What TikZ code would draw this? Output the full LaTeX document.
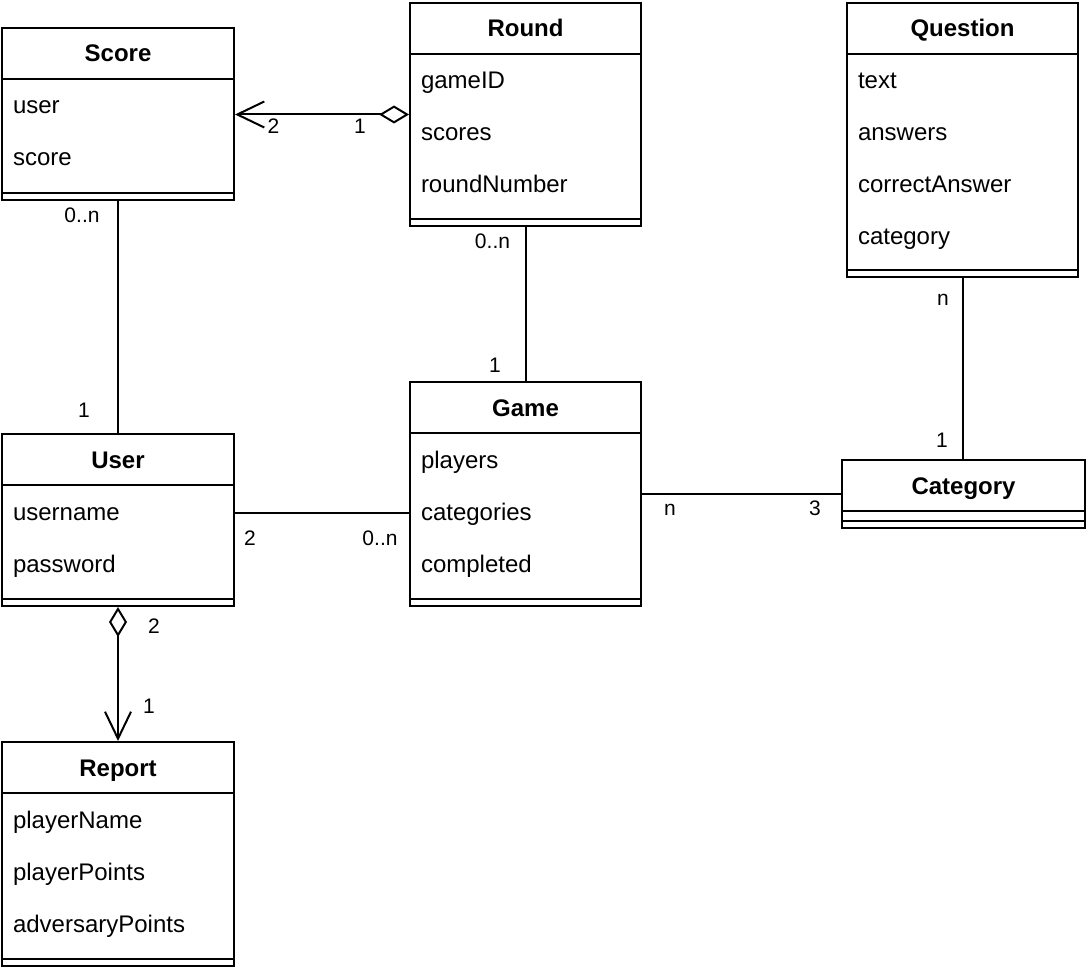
\documentclass[tikz,border=0pt]{standalone}
\usepackage{fontspec}
\setmainfont{Liberation Sans}
\usetikzlibrary{arrows.meta}
\tikzset{
  cls/.style={draw, rectangle, anchor=north west, inner sep=0pt, fill=white},
  ttl/.style={anchor=base, inner sep=0pt, font=\bfseries\fontsize{24}{28}\selectfont},
  attr/.style={anchor=base west, inner sep=0pt, font=\fontsize{24}{28}\selectfont},
  lbl/.style={anchor=base, inner sep=0pt, font=\fontsize{21}{24}\selectfont},
  aggrarrow/.style={{Diamond[open,length=30pt,width=18pt,line width=2pt]}-{Straight Barb[length=27pt,width=26pt,line width=2pt]}}
}
\newcommand{\umlclass}[6]{%
  \node[cls, minimum width=#4pt, minimum height=#5pt] (#1) at (#2,#3) {};
  \draw ([yshift=-52pt]#1.north west) -- ([yshift=-52pt]#1.north east);
  \draw ([yshift=8pt]#1.south west) -- ([yshift=8pt]#1.south east);
  \node[ttl] (#1-title) at ([yshift=-35pt]#1.north) {#6};
}
\newcommand{\umlattr}[4]{%
  \node[attr] (#1) at ([xshift=11pt,yshift=-#3pt]#2.north west) {#4};
}
\begin{document}
\begin{tikzpicture}[x=1pt,y=-1pt,line width=2pt]
\useasboundingbox[fill=white] (0,0) rectangle (1086,968);

% classes
\umlclass{score}{1}{27}{232}{172}{Score}
\umlattr{score-a1}{score}{87}{user}
\umlattr{score-a2}{score}{139}{score}

\umlclass{round}{409}{2}{231}{223}{Round}
\umlattr{round-a1}{round}{87}{gameID}
\umlattr{round-a2}{round}{139}{scores}
\umlattr{round-a3}{round}{191}{roundNumber}

\umlclass{question}{846}{2}{231}{274}{Question}
\umlattr{question-a1}{question}{87}{text}
\umlattr{question-a2}{question}{139}{answers}
\umlattr{question-a3}{question}{191}{correctAnswer}
\umlattr{question-a4}{question}{243}{category}

\umlclass{user}{1}{433}{232}{172}{User}
\umlattr{user-a1}{user}{87}{username}
\umlattr{user-a2}{user}{139}{password}

\umlclass{game}{409}{381}{231}{224}{Game}
\umlattr{game-a1}{game}{87}{players}
\umlattr{game-a2}{game}{139}{categories}
\umlattr{game-a3}{game}{191}{completed}

\umlclass{category}{841}{459}{243}{68}{Category}

\umlclass{report}{1}{741}{232}{224}{Report}
\umlattr{report-a1}{report}{87}{playerName}
\umlattr{report-a2}{report}{139}{playerPoints}
\umlattr{report-a3}{report}{191}{adversaryPoints}

% connectors
\draw[aggrarrow] (round.west) -- (round.west -| score.east);
\node[lbl] (l-sr2) at (273.5,134) {2};
\node[lbl] (l-sr1) at (360,134) {1};

\draw (score.south) -- (user.north);
\node[lbl] (l-su0n) at (82,223) {0..n};
\node[lbl] (l-su1) at (84,417) {1};

\draw (round.south) -- (game.north);
\node[lbl] (l-rg0n) at (492.5,248) {0..n};
\node[lbl] (l-rg1) at (495,372) {1};

\draw[aggrarrow] (user.south) -- (report.north);
\node[lbl] (l-ur2) at (154,633) {2};
\node[lbl] (l-ur1) at (149,713) {1};

\draw ([yshift=7pt]user.east) -- ([yshift=7pt]user.east -| game.west);
\node[lbl] (l-ug2) at (250,545) {2};
\node[lbl] (l-ug0n) at (380,545) {0..n};

\draw (game.east) -- (category.west);
\node[lbl] (l-gcn) at (670,515) {n};
\node[lbl] (l-gc3) at (815,515) {3};

\draw (question.south) -- (question.south |- category.north);
\node[lbl] (l-qcn) at (943,305) {n};
\node[lbl] (l-qc1) at (942,447) {1};
\end{tikzpicture}
\end{document}
